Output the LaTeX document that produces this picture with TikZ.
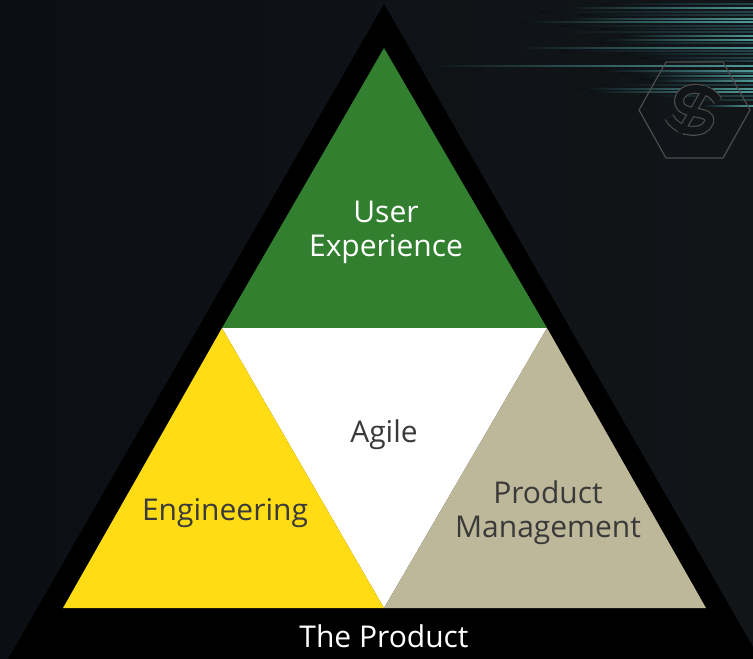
\documentclass[tikz,border=0pt]{standalone}
\usepackage{fontspec}
\setmainfont{Open Sans}
\usepackage{xcolor}
\usetikzlibrary{positioning}
\definecolor{bgdark}{HTML}{0B0F14}
\definecolor{bgright}{HTML}{121518}
\definecolor{uxgreen}{HTML}{317F2F}
\definecolor{engyellow}{HTML}{FFDC14}
\definecolor{pmtan}{HTML}{BDB899}
\definecolor{streak}{HTML}{4F9A98}
\definecolor{streakdim}{HTML}{24454A}
\definecolor{hexgrey}{HTML}{4C4C4C}
\definecolor{darktext}{HTML}{3A3A3A}
\tikzset{
	sidelabel/.style={font=\fontsize{30}{34}\selectfont, align=center, inner sep=0pt},
	streakline/.style={left color=bgdark, right color=streak},
	dimline/.style={left color=bgdark, right color=streakdim},
}
\begin{document}
\begin{tikzpicture}[x=1pt, y=-1pt]
	\useasboundingbox (0,0) rectangle (753,659);
	\clip (0,0) rectangle (753,659);
	\shade[left color=bgdark, right color=bgright] (0,0) rectangle (753,659);
	% streaks, top right
	\foreach \ya/\xa in {3/600, 11/540, 14/580, 25/560, 28/600, 31/540, 42/600, 50/560, 53/620, 57/640, 60/660, 72/620, 78/640, 84/600, 95/640, 99/680}{
		\shade[dimline] (\xa,\ya) rectangle (753,\ya+1.5);
	}
	\foreach \ya/\xa/\lw in {7/560/1, 18/560/1, 21/520/1, 35/620/1.5, 39/600/1, 47/510/1, 65/420/1.5, 70/600/1, 75/640/1, 80/650/1, 88/580/1, 91/590/1, 105/700/1}{
		\shade[streakline] (\xa,\ya) rectangle (753,\ya+\lw);
	}
	% hexagon with dollar
	\draw[hexgrey, line width=1.2pt, line join=round] (639,110)--(666,62)--(723,62)--(750,110)--(723,158)--(666,158)--cycle;
	\draw[hexgrey, line width=8pt] (707,87)--(680,133);
	\draw[hexgrey, line width=10pt] (718,101) .. controls (708,84) and (680,86) .. (679,100) .. controls (678,118) and (713,108) .. (709,122) .. controls (705,135) and (678,134) .. (669,117);
	\draw[bgright, line width=5.6pt] (707,87)--(680,133);
	\draw[bgright, line width=7.6pt] (718,101) .. controls (708,84) and (680,86) .. (679,100) .. controls (678,118) and (713,108) .. (709,122) .. controls (705,135) and (678,134) .. (669,117);
	% pyramid
	\fill[black] (384,4)--(-20,708)--(788,708)--cycle;
	\coordinate (top) at (384,48);
	\coordinate (left) at (222,328);
	\coordinate (right) at (547,328);
	\coordinate (botleft) at (63,608);
	\coordinate (botmid) at (384,608);
	\coordinate (botright) at (706,608);
	\fill[uxgreen] (top)--(left)--(right)--cycle;
	\fill[white] (left)--(right)--(botmid)--cycle;
	\fill[engyellow] (left)--(botleft)--(botmid)--cycle;
	\fill[pmtan] (right)--(botmid)--(botright)--cycle;
	\node[sidelabel, white] (ux) at (386,232) {User\\Experience};
	\node[sidelabel, darktext] (agile) at (384,435) {Agile};
	\node[sidelabel, darktext] (eng) at (225,513) {Engineering};
	\node[sidelabel, darktext] (pm) at (548,513) {Product\\Management};
	\node[sidelabel, white] (product) at (384,636) {The Product};
\end{tikzpicture}
\end{document}
